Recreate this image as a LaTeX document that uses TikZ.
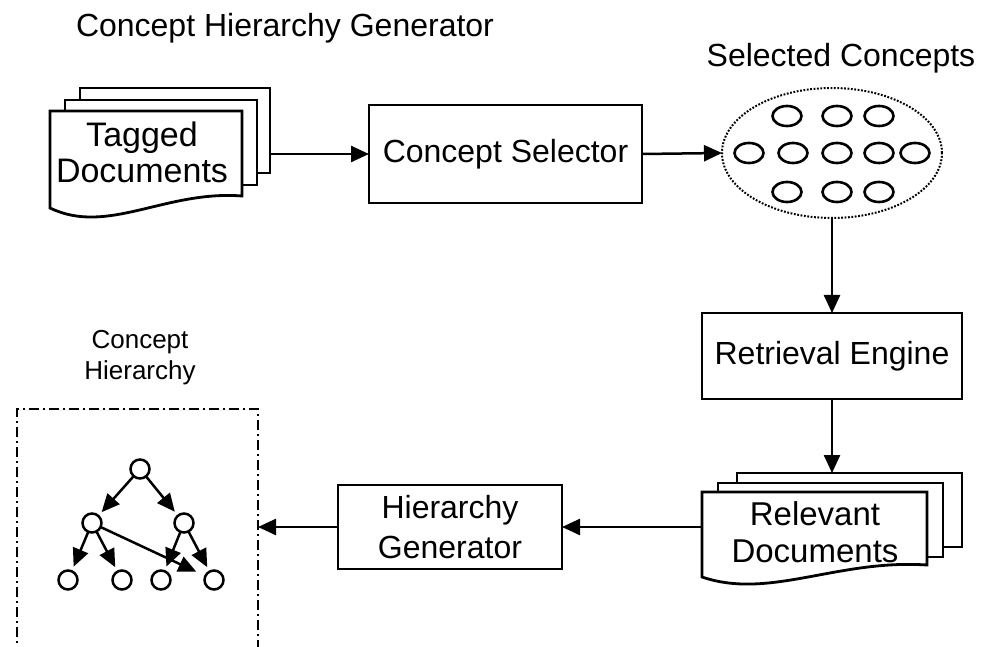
\documentclass[tikz,border=0pt]{standalone}
\usepackage{fontspec}
\setmainfont{Liberation Sans}
\usetikzlibrary{arrows.meta,shapes.geometric}
\begin{document}
\begin{tikzpicture}[x=1pt,y=-1pt,
  every node/.style={inner sep=0pt, outer sep=0pt},
  big/.style={font=\fontsize{32}{36}\selectfont},
  boxnode/.style={draw, line width=2.8pt, fill=white, big, align=center},
  page/.style={draw, line width=2.8pt, fill=white, anchor=north west},
  frontpage/.style={draw, line width=2.8pt, fill=white},
  arr/.style={line width=2.5pt, -{Triangle[length=18pt,width=16pt]}},
  tarr/.style={line width=2.5pt, -{Triangle[length=18pt,width=16pt]}, shorten >=5pt},
  conc/.style={draw, ellipse, line width=2.6pt, minimum width=29pt, minimum height=20pt},
  tnode/.style={draw, circle, line width=2.5pt, minimum size=19pt},
]
\fill[white] (0,0) rectangle (986,647);
\useasboundingbox (0,0) rectangle (986,647);

% titles
\node[big, anchor=base] (title) at (285,37) {Concept Hierarchy Generator};
\node[big, anchor=base] (sellbl) at (841,67) {Selected Concepts};

% tagged documents
\node[page, minimum width=190pt, minimum height=85pt] (tagp3) at (80,88) {};
\node[page, minimum width=192pt, minimum height=85pt] (tagp2) at (65,100) {};
\draw[frontpage] (50,111) -- (242,111) -- (242,196) .. controls (165.2,190) and (107.6,235.8) .. (50,208) -- cycle;
\node[font=\fontsize{34}{36}\selectfont, align=center] (tagged) at (142,152) {Tagged\\Documents};

% concept selector
\node[boxnode, minimum width=273pt, minimum height=98pt] (selector) at (505.5,154) {Concept Selector};
\draw[arr] (selector.west -| tagp3.east) -- (selector.west);

% selected concepts
\node[draw, ellipse, line width=2pt, dash pattern=on 1.8pt off 1.6pt, minimum width=220pt, minimum height=130pt] (concepts) at (832,153) {};
\node[conc] (c1) at (787,116) {};
\node[conc] (c2) at (837,116) {};
\node[conc] (c3) at (879,116) {};
\node[conc] (c4) at (749,153) {};
\node[conc] (c5) at (793,153) {};
\node[conc] (c6) at (837,153) {};
\node[conc] (c7) at (879,153) {};
\node[conc] (c8) at (915,153) {};
\node[conc] (c9) at (787,192) {};
\node[conc] (c10) at (837,192) {};
\node[conc] (c11) at (879,192) {};
\draw[arr] (selector.east) -- (concepts.west);

% retrieval engine
\node[boxnode, minimum width=260pt, minimum height=86pt] (retrieval) at (832,356) {Retrieval Engine};
\draw[arr] (concepts.south) -- (retrieval.north);

% relevant documents
\node[page, minimum width=225pt, minimum height=74pt] (relp3) at (737,473) {};
\node[page, minimum width=225pt, minimum height=74pt] (relp2) at (718,483) {};
\draw[frontpage] (702,492) -- (927,492) -- (927,565) .. controls (837,559) and (769.5,600) .. (702,577) -- cycle;
\node[minimum width=225pt, minimum height=73pt, anchor=north west] (relfront) at (702,492) {};
\node[font=\fontsize{33}{37}\selectfont, align=center] (relevant) at (815,532) {Relevant\\Documents};
\draw[arr] (retrieval.south) -- (retrieval.south |- relp3.north);

% hierarchy generator
\node[boxnode, minimum width=224pt, minimum height=84pt, font=\fontsize{32}{40}\selectfont] (hiergen) at (450,527) {Hierarchy\\Generator};
\draw[arr] (hiergen.east -| relfront.west) -- (hiergen.east);

% concept hierarchy box
\node[draw, line width=2.6pt, dash pattern=on 10pt off 4pt on 2pt off 4pt, minimum width=241pt, minimum height=300pt, anchor=north west] (hbox) at (17,409) {};
\draw[arr] (hiergen.west) -- (hiergen.west -| hbox.east);
\node[font=\fontsize{26}{31}\selectfont, align=center] (hierlbl) at (140,358) {Concept\\Hierarchy};

% tree
\node[tnode] (t0) at (140,469) {};
\node[tnode] (t1) at (92,523) {};
\node[tnode] (t2) at (184,523) {};
\node[tnode] (t3) at (68,580) {};
\node[tnode] (t4) at (122,580) {};
\node[tnode] (t5) at (161,580) {};
\node[tnode] (t6) at (214,580) {};
\draw[tarr] (t0) -- (t1);
\draw[tarr] (t0) -- (t2);
\draw[tarr] (t1) -- (t3);
\draw[tarr] (t1) -- (t4);
\draw[tarr, shorten >=10pt] (t1) -- (t6);
\draw[tarr] (t2) -- (t5);
\draw[tarr] (t2) -- (t6);
\end{tikzpicture}
\end{document}
